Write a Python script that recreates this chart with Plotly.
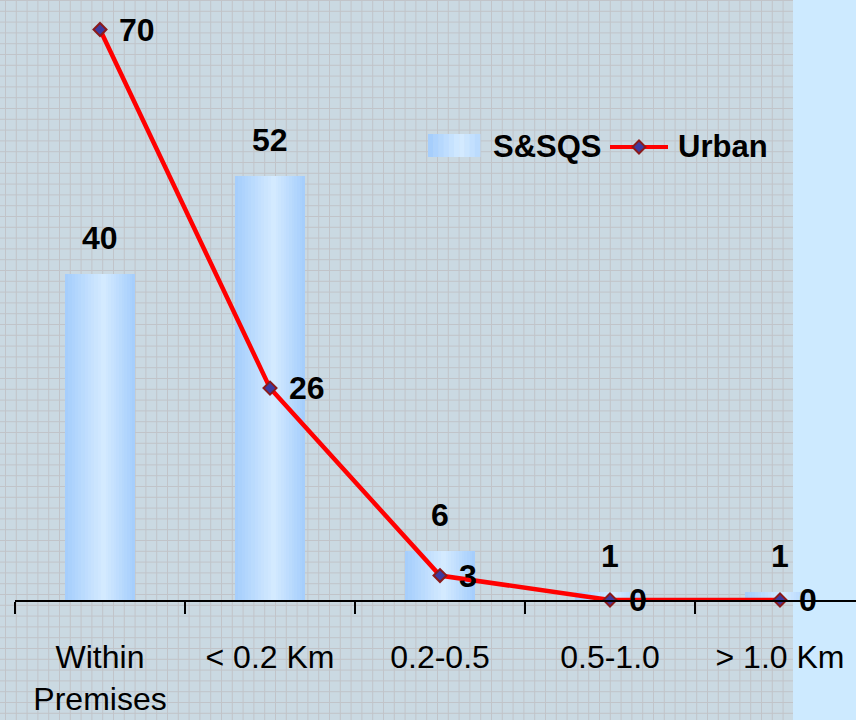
import plotly.graph_objects as go

# Distance categories and the two series
categories = ["Within<br>Premises", "< 0.2 Km", "0.2-0.5", "0.5-1.0", "> 1.0 Km"]
ssqs_values = [40, 52, 6, 1, 1]
urban_values = [70, 26, 3, 0, 0]

W, H = 856, 720
FONT = "Liberation Sans, Arial, sans-serif"


def px(x):
    return x / W


def py(y):
    return 1 - y / H


def mix(c1, c2, t):
    a = [int(c1[i:i + 2], 16) for i in (1, 3, 5)]
    b = [int(c2[i:i + 2], 16) for i in (1, 3, 5)]
    return "#" + "".join(f"{round(a[k] + (b[k] - a[k]) * t):02x}" for k in range(3))


EDGE = "#a6cefc"
CENTER = "#d3eaff"
BAR_W = 0.41

fig = go.Figure()

# Bars: layered narrower/lighter bars give a horizontal cylinder-like shading
steps = 12
for i in range(steps):
    t = i / (steps - 1)
    w = BAR_W * (1 - t * 0.93)
    centre_shift = 0.02 * t
    fig.add_trace(go.Bar(
        x=categories, y=ssqs_values,
        width=w, offset=-w / 2 + centre_shift,
        marker=dict(color=mix(EDGE, CENTER, t), line=dict(width=0)),
        showlegend=False, hoverinfo="skip" if i else None,
        name="S&SQS",
    ))

# Urban line
fig.add_trace(go.Scatter(
    x=categories, y=urban_values, mode="lines+markers", name="Urban",
    line=dict(color="#ff0000", width=4.5),
    marker=dict(symbol="diamond", size=10, color="#3d3a9e",
                line=dict(color="#8b1a1a", width=2)),
    cliponaxis=False, showlegend=False,
))

annotations = []
for c, v in zip(categories, ssqs_values):
    annotations.append(dict(
        x=c, y=v, xref="x", yref="y", text=f"<b>{v}</b>", showarrow=False,
        xanchor="center", yanchor="middle", yshift=36,
        font=dict(family=FONT, size=32, color="black"),
    ))
for c, v in zip(categories, urban_values):
    annotations.append(dict(
        x=c, y=v, xref="x", yref="y", text=f"<b>{v}</b>", showarrow=False,
        xanchor="left", yanchor="middle", xshift=17,
        font=dict(family=FONT, size=32, color="black"),
    ))

# Legend drawn by hand
annotations.append(dict(x=px(491), y=py(147), xref="paper", yref="paper",
                        text="<b>S&SQS</b>", showarrow=False, xanchor="left",
                        yanchor="middle", font=dict(family=FONT, size=31, color="black")))
annotations.append(dict(x=px(676), y=py(147), xref="paper", yref="paper",
                        text="<b>Urban</b>", showarrow=False, xanchor="left",
                        yanchor="middle", font=dict(family=FONT, size=31, color="black")))

shapes = []
# Chart-area panel with its fine grid
shapes.append(dict(type="rect", xref="paper", yref="paper", x0=0, x1=px(793),
                   y0=0, y1=1, fillcolor="#cad9e2", line=dict(width=0), layer="below"))
gap = 10.8
path = []
x = 5.5
while x < 793:
    path.append(f"M{px(x)},0 L{px(x)},1")
    x += gap
y = 0.5
while y < H:
    path.append(f"M0,{py(y)} L{px(793)},{py(y)}")
    y += gap
shapes.append(dict(type="path", xref="paper", yref="paper", path=" ".join(path),
                   line=dict(color="#c1c4c9", width=1), layer="below"))

# Legend swatches
n = 10
for i in range(n):
    x0 = 428 + 52 * i / n
    x1 = 428 + 52 * (i + 1) / n
    t = min(1, i / (n - 1) * 1.6) if i < n * 0.65 else max(0, 1 - (i - n * 0.65) / (n * 0.35)) * 0.6 + 0.3
    shapes.append(dict(type="rect", xref="paper", yref="paper", x0=px(x0), x1=px(x1) + 0.0005,
                       y0=py(157), y1=py(134), fillcolor=mix(EDGE, CENTER, t),
                       line=dict(width=0)))
shapes.append(dict(type="line", xref="paper", yref="paper", x0=px(610), x1=px(668),
                   y0=py(147), y1=py(147), line=dict(color="#ff0000", width=4)))
cx, cy, r = 639, 147, 6.5
shapes.append(dict(type="path", xref="paper", yref="paper",
                   path=f"M{px(cx)},{py(cy - r)} L{px(cx + r)},{py(cy)} L{px(cx)},{py(cy + r)} L{px(cx - r)},{py(cy)} Z",
                   fillcolor="#3d3a9e", line=dict(color="#8b1a1a", width=2)))

y_top = 600 / 8.15

fig.update_layout(
    width=W, height=H, margin=dict(l=0, r=0, t=0, b=0),
    paper_bgcolor="#cdeaff", plot_bgcolor="rgba(0,0,0,0)",
    barmode="overlay", bargap=0,
    showlegend=False,
    xaxis=dict(
        domain=[px(15), 1], type="category", categoryorder="array",
        categoryarray=categories, range=[-0.5, (W - 15) / 170 - 0.5],
        showline=True, linecolor="black", linewidth=2,
        ticks="outside", tickson="boundaries", ticklen=12, tickwidth=2, tickcolor="black",
        showgrid=False, zeroline=False, ticklabelstandoff=28,
        tickfont=dict(family=FONT, size=32, color="black"),
    ),
    yaxis=dict(domain=[120 / H, 1], range=[0, y_top], visible=False,
               showgrid=False, zeroline=False),
    annotations=annotations,
    shapes=shapes,
)

fig.write_html("out.html")
